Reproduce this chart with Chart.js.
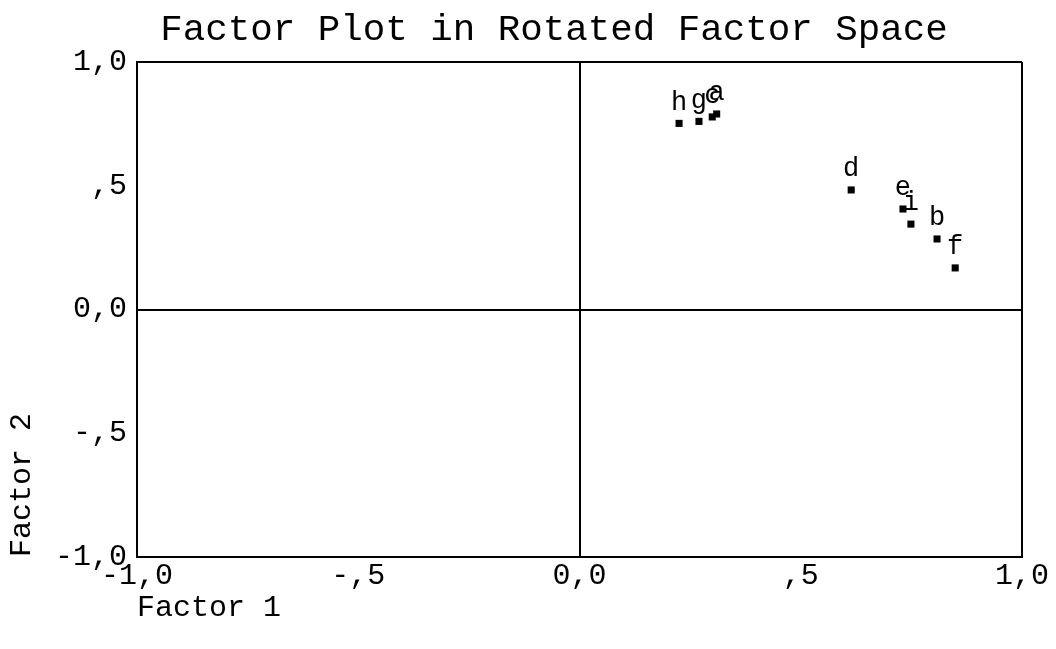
<!DOCTYPE html>
<html>
<head>
<meta charset="utf-8">
<script src="https://cdn.jsdelivr.net/npm/chart.js@4.4.1/dist/chart.umd.min.js"></script>
<style>
  html, body { margin: 0; padding: 0; background: #fff; }
  #wrap { width: 1056px; height: 649px; position: relative; }
</style>
</head>
<body>
<div id="wrap"><canvas id="chart-factor"></canvas></div>
<script>
const pointLabels = ['a', 'b', 'c', 'd', 'e', 'f', 'g', 'h', 'i'];
const factor1 = [0.31, 0.808, 0.30, 0.614, 0.731, 0.849, 0.27, 0.225, 0.749];
const factor2 = [0.79, 0.285, 0.778, 0.483, 0.406, 0.168, 0.760, 0.752, 0.345];
const tickValues = [-1, -0.5, 0, 0.5, 1];
const tickLabels = ['-1,0', '-,5', '0,0', ',5', '1,0'];

const chartTitle = 'Factor Plot in Rotated Factor Space';
const mono = "'Liberation Mono', 'DejaVu Sans Mono', monospace";

const points = factor1.map((x, i) => ({ x: x, y: factor2[i] }));

function tickText(v) {
    const i = tickValues.findIndex(t => Math.abs(t - v) < 1e-6);
    return i >= 0 ? tickLabels[i] : '';
}

function lineColor(ctx) {
    const v = ctx.tick ? ctx.tick.value : null;
    return (v === -1 || v === 0 || v === 1) ? '#000' : 'rgba(0,0,0,0)';
}

const labelPlugin = {
    id: 'pointText',
    afterDatasetsDraw(chart) {
        const c = chart.ctx;
        const meta = chart.getDatasetMeta(0);
        c.save();
        c.fillStyle = '#000';
        c.font = '27px ' + mono;
        c.textAlign = 'center';
        c.textBaseline = 'middle';
        meta.data.forEach((pt, i) => {
            c.fillText(pointLabels[i], pt.x, pt.y - 21);
        });
        c.font = '37.5px ' + mono;
        c.fillText(chartTitle, 554, 30);
        c.restore();
    }
};

new Chart(document.getElementById('chart-factor').getContext('2d'), {
    type: 'scatter',
    data: {
        datasets: [{
            data: points,
            pointStyle: 'rect',
            pointRadius: 5,
            backgroundColor: '#000',
            borderColor: '#000',
            borderWidth: 0
        }]
    },
    options: {
        responsive: true,
        maintainAspectRatio: false,
        animation: false,
        layout: { padding: { top: 62, right: 34, left: 0, bottom: 0 } },
        plugins: { legend: { display: false }, tooltip: { enabled: false } },
        scales: {
            x: {
                min: -1, max: 1,
                afterBuildTicks: s => { s.ticks = tickValues.map(v => ({ value: v })); },
                afterFit: s => { s.height = 92; },
                border: { display: true, color: '#000', width: 2 },
                grid: { color: lineColor, lineWidth: 2, drawTicks: false },
                ticks: {
                    color: '#000', padding: 1, maxRotation: 0, autoSkip: false,
                    font: { family: mono, size: 30 },
                    callback: v => tickText(v)
                },
                title: {
                    display: true, text: 'Factor 1', align: 'start', color: '#000',
                    font: { family: mono, size: 30 }, padding: { top: 4, bottom: 23 }
                }
            },
            y: {
                min: -1, max: 1,
                afterBuildTicks: s => { s.ticks = tickValues.map(v => ({ value: v })); },
                afterFit: s => { s.width = 137; },
                border: { display: true, color: '#000', width: 2 },
                grid: { color: lineColor, lineWidth: 2, drawTicks: false },
                ticks: {
                    color: '#000', padding: 10, autoSkip: false,
                    font: { family: mono, size: 30 },
                    callback: v => tickText(v)
                },
                title: {
                    display: true, text: 'Factor 2', align: 'start', color: '#000',
                    font: { family: mono, size: 30 }
                }
            }
        }
    },
    plugins: [labelPlugin]
});
</script>
</body>
</html>
